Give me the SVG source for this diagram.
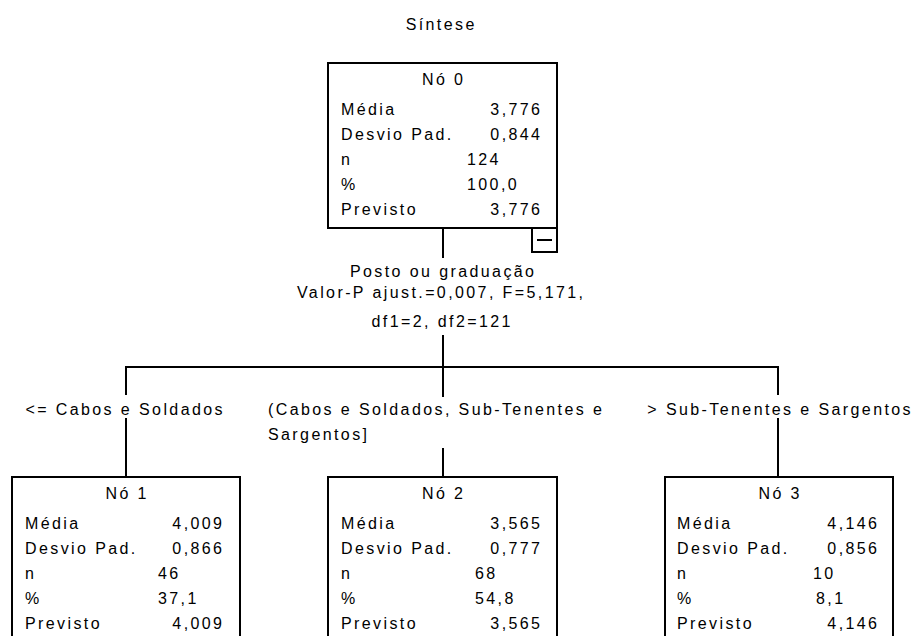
<svg xmlns="http://www.w3.org/2000/svg" width="914" height="636" viewBox="0 0 914 636">
<style>
text{font-family:"Liberation Sans",Arial,sans-serif;font-size:16px;letter-spacing:2.4px;fill:#000}
.c{text-anchor:middle}
.r{text-anchor:end}
.box{fill:#fff;stroke:#000;stroke-width:2}
.ln{stroke:#000;stroke-width:2;fill:none}
</style>
<rect width="914" height="636" fill="#fff"/>
<text class="c" x="441.2" y="30">Síntese</text>
<g id="connectors">
<line class="ln" x1="443" y1="228" x2="443" y2="258"/>
<line class="ln" x1="443" y1="335" x2="443" y2="367"/>
<line class="ln" x1="125" y1="367" x2="779" y2="367"/>
<line class="ln" x1="126" y1="367" x2="126" y2="395"/>
<line class="ln" x1="126" y1="418" x2="126" y2="477"/>
<line class="ln" x1="443" y1="367" x2="443" y2="397"/>
<line class="ln" x1="443" y1="448" x2="443" y2="477"/>
<line class="ln" x1="778" y1="367" x2="778" y2="395"/>
<line class="ln" x1="778" y1="418" x2="778" y2="477"/>
<text class="c" x="443.2" y="277">Posto ou graduação</text>
<text class="c" x="441.2" y="298">Valor-P ajust.=0,007, F=5,171,</text>
<text class="c" x="442.2" y="327">df1=2, df2=121</text>
<text class="c" x="125.2" y="415">&lt;= Cabos e Soldados</text>
<text x="268" y="415">(Cabos e Soldados, Sub-Tenentes e</text>
<text x="268" y="440">Sargentos]</text>
<text class="c" x="780.2" y="415">&gt; Sub-Tenentes e Sargentos</text>
</g>
<g id="node0">
<rect class="box" x="328" y="63" width="229" height="165"/>
<rect class="box" x="532" y="228" width="25" height="24"/>
<line class="ln" x1="537" y1="240" x2="552" y2="240"/>
<text class="c" x="443.7" y="85">Nó 0</text>
<text x="341" y="115">Média</text><text class="r" x="542.4" y="115">3,776</text>
<text x="341" y="140">Desvio Pad.</text><text class="r" x="542.4" y="140">0,844</text>
<text x="341" y="165">n</text><text x="467" y="165">124</text>
<text x="341" y="190">%</text><text x="467" y="190">100,0</text>
<text x="341" y="215">Previsto</text><text class="r" x="542.4" y="215">3,776</text>
</g>
<g id="node1">
<rect class="box" x="12" y="477" width="228" height="200"/>
<text class="c" x="127.2" y="499">Nó 1</text>
<text x="25" y="529">Média</text><text class="r" x="224.4" y="529">4,009</text>
<text x="25" y="554">Desvio Pad.</text><text class="r" x="224.4" y="554">0,866</text>
<text x="25" y="579">n</text><text x="158" y="579">46</text>
<text x="25" y="604">%</text><text x="158" y="604">37,1</text>
<text x="25" y="629">Previsto</text><text class="r" x="224.4" y="629">4,009</text>
</g>
<g id="node2">
<rect class="box" x="328" y="477" width="229" height="200"/>
<text class="c" x="443.7" y="499">Nó 2</text>
<text x="341" y="529">Média</text><text class="r" x="542.4" y="529">3,565</text>
<text x="341" y="554">Desvio Pad.</text><text class="r" x="542.4" y="554">0,777</text>
<text x="341" y="579">n</text><text x="475" y="579">68</text>
<text x="341" y="604">%</text><text x="475" y="604">54,8</text>
<text x="341" y="629">Previsto</text><text class="r" x="542.4" y="629">3,565</text>
</g>
<g id="node3">
<rect class="box" x="665" y="477" width="228" height="200"/>
<text class="c" x="780.2" y="499">Nó 3</text>
<text x="677" y="529">Média</text><text class="r" x="879.4" y="529">4,146</text>
<text x="677" y="554">Desvio Pad.</text><text class="r" x="879.4" y="554">0,856</text>
<text x="677" y="579">n</text><text x="813" y="579">10</text>
<text x="677" y="604">%</text><text x="816" y="604">8,1</text>
<text x="677" y="629">Previsto</text><text class="r" x="879.4" y="629">4,146</text>
</g>
</svg>
